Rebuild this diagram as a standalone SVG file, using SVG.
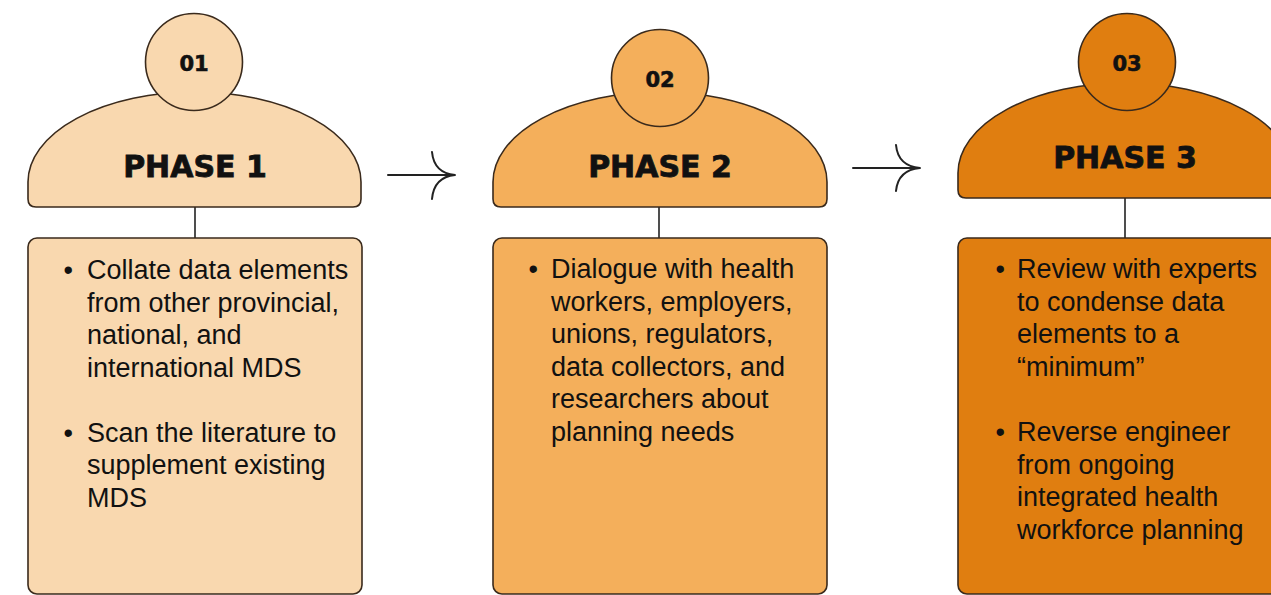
<svg xmlns="http://www.w3.org/2000/svg" width="1271" height="595" viewBox="0 0 1271 595">
  <style>
    .shape { stroke: #3a2a1c; stroke-width: 1.6; }
    .p1 { fill: #F9D8AF; }
    .p2 { fill: #F4AF5B; }
    .p3 { fill: #E07E10; }
    .num { font-family: "DejaVu Sans", sans-serif; font-weight: bold; font-size: 21px; fill: #111; stroke: #111; stroke-width: 0.6; text-anchor: middle; }
    .title { font-family: "DejaVu Sans", sans-serif; font-weight: bold; font-size: 30px; fill: #111; stroke: #111; stroke-width: 0.8; text-anchor: middle; }
    .body { font-family: "Liberation Sans", Arial, sans-serif; font-size: 27px; fill: #111; }
    .link { stroke: #222; stroke-width: 1.6; fill: none; }
    .arrow { stroke: #222; stroke-width: 2; fill: none; stroke-linecap: round; }
  </style>
  <rect width="1271" height="595" fill="#ffffff"/>

  <g id="connectors">
    <line class="link" x1="195" y1="207" x2="195" y2="238"/>
    <line class="link" x1="659" y1="207" x2="659" y2="238"/>
    <line class="link" x1="1125" y1="198" x2="1125" y2="238"/>
    <path class="arrow" d="M 388 175 L 455 175 M 432 152 Q 434 173 455 175 Q 434 177 432 199"/>
    <path class="arrow" d="M 853 168 L 920 168 M 896 145 Q 898 166 920 168 Q 898 170 896 191"/>
  </g>

  <g id="phase1">
    <path class="shape p1" d="M 28 199 L 28 182 A 166.5 90 0 0 1 361 182 L 361 199 Q 361 207 353 207 L 36 207 Q 28 207 28 199 Z"/>
    <circle class="shape p1" cx="194" cy="62" r="48.5"/>
    <text class="num" x="194" y="71">01</text>
    <text class="title" x="195" y="177">PHASE 1</text>
  </g>
  <g id="box1">
    <rect class="shape p1" x="28" y="238" width="334" height="356" rx="9"/>
    <text class="body">
      <tspan x="63.5" y="279">•</tspan>
      <tspan x="87" y="279">Collate data elements</tspan>
      <tspan x="87" y="311.5">from other provincial,</tspan>
      <tspan x="87" y="344">national, and</tspan>
      <tspan x="87" y="376.5">international MDS</tspan>
      <tspan x="63.5" y="441.5">•</tspan>
      <tspan x="87" y="441.5">Scan the literature to</tspan>
      <tspan x="87" y="474">supplement existing</tspan>
      <tspan x="87" y="506.5">MDS</tspan>
    </text>
  </g>

  <g id="phase2">
    <path class="shape p2" d="M 493 199 L 493 182 A 167 90 0 0 1 827 182 L 827 199 Q 827 207 819 207 L 501 207 Q 493 207 493 199 Z"/>
    <circle class="shape p2" cx="660" cy="78" r="48.5"/>
    <text class="num" x="660" y="87">02</text>
    <text class="title" x="660" y="177">PHASE 2</text>
  </g>
  <g id="box2">
    <rect class="shape p2" x="493" y="238" width="334" height="356" rx="9"/>
    <text class="body">
      <tspan x="528.5" y="278">•</tspan>
      <tspan x="551" y="278">Dialogue with health</tspan>
      <tspan x="551" y="310.5">workers, employers,</tspan>
      <tspan x="551" y="343">unions, regulators,</tspan>
      <tspan x="551" y="375.5">data collectors, and</tspan>
      <tspan x="551" y="408">researchers about</tspan>
      <tspan x="551" y="440.5">planning needs</tspan>
    </text>
  </g>

  <g id="phase3">
    <path class="shape p3" d="M 958 190 L 958 173 A 167 90 0 0 1 1292 173 L 1292 190 Q 1292 198 1284 198 L 966 198 Q 958 198 958 190 Z"/>
    <circle class="shape p3" cx="1127" cy="62" r="48.5"/>
    <text class="num" x="1127" y="71">03</text>
    <text class="title" x="1125" y="168">PHASE 3</text>
  </g>
  <g id="box3">
    <rect class="shape p3" x="958" y="238" width="334" height="356" rx="9"/>
    <text class="body">
      <tspan x="995.5" y="278">•</tspan>
      <tspan x="1017" y="278">Review with experts</tspan>
      <tspan x="1017" y="310.5">to condense data</tspan>
      <tspan x="1017" y="343">elements to a</tspan>
      <tspan x="1017" y="375.5">“minimum”</tspan>
      <tspan x="995.5" y="441">•</tspan>
      <tspan x="1017" y="441">Reverse engineer</tspan>
      <tspan x="1017" y="473.5">from ongoing</tspan>
      <tspan x="1017" y="506">integrated health</tspan>
      <tspan x="1017" y="538.5">workforce planning</tspan>
    </text>
  </g>
</svg>
